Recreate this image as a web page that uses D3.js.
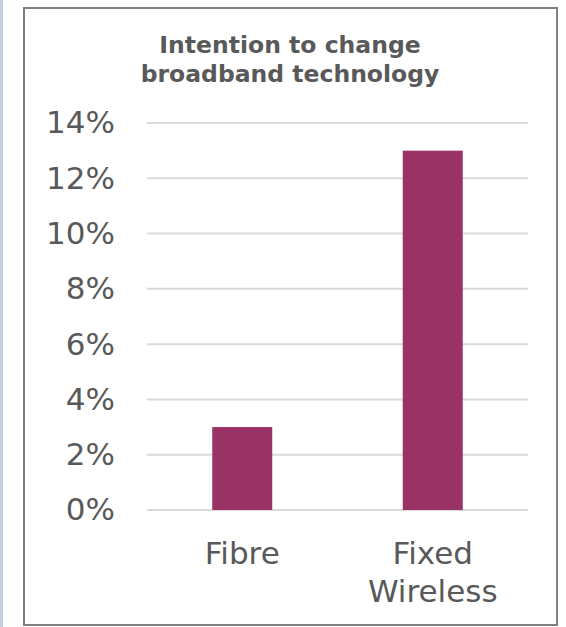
<!DOCTYPE html>
<html>
<head>
<meta charset="utf-8">
<script src="https://cdn.jsdelivr.net/npm/d3@7"></script>
<style>
  body { margin: 0; background: #fff; }
  text { font-family: "DejaVu Sans", Verdana, sans-serif; fill: #595959; }
</style>
</head>
<body>
<div id="chart"></div>
<script>
// chart data
var categories = [["Fibre"], ["Fixed", "Wireless"]];
var values = [0.03, 0.13];
var tickValues = [0, 0.02, 0.04, 0.06, 0.08, 0.10, 0.12, 0.14];
var titleLines = ["Intention to change", "broadband technology"];

var W = 566, H = 627;

var svg = d3.select("#chart").append("svg")
    .attr("width", W)
    .attr("height", H);

// faint blue edge at far left (neighbouring panel)
svg.append("rect")
    .attr("x", 0).attr("y", 0)
    .attr("width", 3).attr("height", H)
    .attr("fill", "#c5d0e0");

// frame
svg.append("rect")
    .attr("x", 24).attr("y", 8)
    .attr("width", 533).attr("height", 617)
    .attr("fill", "none")
    .attr("stroke", "#808080")
    .attr("stroke-width", 2);

var margin = {left: 147, right: 38, top: 123, bottom: 117};

var x = d3.scaleBand()
    .domain(categories.map(d => d.join(" ")))
    .range([margin.left, W - margin.right])
    .paddingInner(0.685)
    .paddingOuter(0.3425);

var y = d3.scaleLinear()
    .domain([0, 0.14])
    .range([H - margin.bottom, margin.top]);

// gridlines
svg.append("g")
    .selectAll("line")
    .data(tickValues)
    .enter().append("line")
    .attr("x1", margin.left)
    .attr("x2", W - margin.right)
    .attr("y1", d => y(d))
    .attr("y2", d => y(d))
    .attr("stroke", "#d9d9d9")
    .attr("stroke-width", 2);

// y axis labels
var yAxis = d3.axisLeft(y)
    .tickValues(tickValues)
    .tickFormat(d3.format(".0%"))
    .tickSize(0)
    .tickPadding(32);

var yg = svg.append("g")
    .attr("transform", `translate(${margin.left},0)`)
    .call(yAxis);
yg.select(".domain").remove();
yg.selectAll("text")
    .style("font-size", "31px")
    .attr("fill", "#595959");

// bars
svg.append("g")
    .selectAll("rect")
    .data(values)
    .enter().append("rect")
    .attr("x", (d, i) => x(categories[i].join(" ")))
    .attr("width", x.bandwidth())
    .attr("y", d => y(d))
    .attr("height", d => y(0) - y(d))
    .attr("fill", "#993366");

// category labels
var cats = svg.append("g")
    .selectAll("text")
    .data(categories)
    .enter().append("text")
    .attr("text-anchor", "middle")
    .style("font-size", "31px")
    .attr("transform", d => `translate(${x(d.join(" ")) + x.bandwidth() / 2},${H - margin.bottom + 54})`);

cats.selectAll("tspan")
    .data(d => d)
    .enter().append("tspan")
    .attr("x", 0)
    .attr("dy", (d, i) => i == 0 ? 0 : 38)
    .text(d => d);

// title
svg.append("text")
    .attr("text-anchor", "middle")
    .attr("transform", "translate(290,53)")
    .style("font-size", "23.5px")
    .style("font-weight", "bold")
    .selectAll("tspan")
    .data(titleLines)
    .enter().append("tspan")
    .attr("x", 0)
    .attr("dy", (d, i) => i == 0 ? 0 : 29)
    .text(d => d);
</script>
</body>
</html>
